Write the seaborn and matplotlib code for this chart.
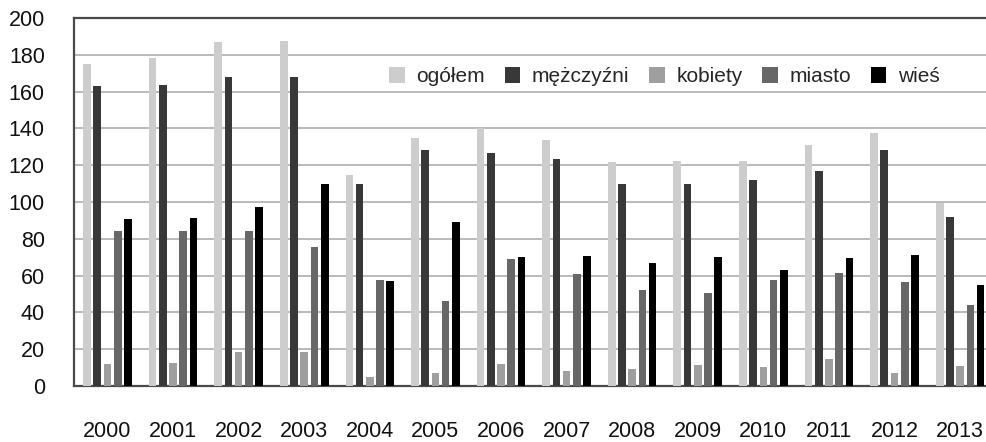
import matplotlib
matplotlib.use("Agg")
import matplotlib.pyplot as plt
import seaborn as sns
import pandas as pd

years = ["2000", "2001", "2002", "2003", "2004", "2005", "2006",
         "2007", "2008", "2009", "2010", "2011", "2012", "2013"]
series = ["ogółem", "mężczyźni", "kobiety", "miasto", "wieś"]

ogolem = [175, 178.5, 187, 187.5, 114.5, 135, 140, 133.5, 121.5, 122.5, 122.5, 131, 137.5, 99.5]
mezczyzni = [163, 163.5, 168, 168, 110, 128, 126.5, 123.5, 110, 110, 112, 117, 128.5, 92]
kobiety = [12, 12.5, 18.5, 18.5, 5, 7, 12, 8, 9.5, 11.5, 10.5, 14.5, 7, 11]
miasto = [84, 84.5, 84, 75.5, 57.5, 46, 69, 61, 52, 50.5, 57.5, 61.5, 56.5, 44]
wies = [91, 91.5, 97.5, 110, 57, 89, 70, 70.5, 67, 70, 63, 69.5, 71, 55]

colors = ["#cdcdcd", "#383838", "#9f9f9f", "#676767", "#000000"]

df = pd.DataFrame({
    "rok": years * 5,
    "seria": [s for s in series for _ in years],
    "wartosc": ogolem + mezczyzni + kobiety + miasto + wies,
})

sns.set_theme(style="white")
plt.rcParams["font.family"] = ["Liberation Sans", "DejaVu Sans"]

fig = plt.figure(figsize=(9.87, 4.42), dpi=100)
ax = fig.add_axes([0.075, 0.1267, 0.931, 0.8326])

sns.barplot(data=df, x="rok", y="wartosc", hue="seria", order=years,
            hue_order=series, palette=colors, width=0.78, gap=0.25,
            saturation=1, edgecolor="none", linewidth=0, ax=ax, zorder=3)

ax.set_ylim(0, 200)
ax.set_yticks(range(0, 201, 20))
ax.set_xlim(-0.51, 13.5)
ax.yaxis.grid(True, color="#b4b4b4", linewidth=1.3, zorder=0)
ax.set_axisbelow(True)
ax.set_xlabel("")
ax.set_ylabel("")
ax.tick_params(axis="y", length=0, pad=21, labelsize=15.5, labelcolor="#111111")
ax.tick_params(axis="x", length=0, pad=25, labelsize=15.5, labelcolor="#111111")
for lbl in ax.get_yticklabels():
    lbl.set_horizontalalignment("right")

for side in ["left", "bottom", "top"]:
    ax.spines[side].set_visible(True)
    ax.spines[side].set_color("#4a4a4a")
    ax.spines[side].set_linewidth(1.6)
ax.spines["right"].set_visible(False)

handles, labels = ax.get_legend_handles_labels()
ax.legend(handles, labels, loc="center left", bbox_to_anchor=(0.334, 0.84),
          ncol=5, frameon=False, fontsize=15, handlelength=0.75,
          handleheight=0.75, handletextpad=0.55, columnspacing=0.95,
          borderaxespad=0)

fig.savefig("out.png", dpi=100)
